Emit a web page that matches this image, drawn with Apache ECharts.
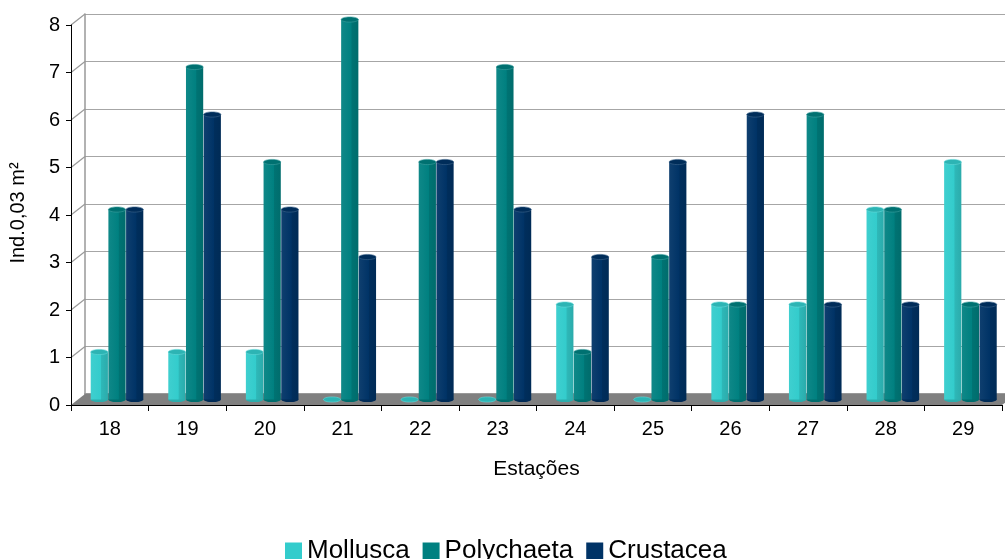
<!DOCTYPE html>
<html>
<head>
<meta charset="utf-8">
<script src="https://cdn.jsdelivr.net/npm/echarts@6/dist/echarts.min.js"></script>
<style>
html, body { margin: 0; padding: 0; background: #ffffff; }
#chart { width: 1005px; height: 559px; }
</style>
</head>
<body>
<div id="chart"></div>
<script>
// Sampling stations and counts per taxon (ind. per 0.03 m²)
const stations   = ['18', '19', '20', '21', '22', '23', '24', '25', '26', '27', '28', '29'];
const mollusca   = [1, 1, 1, 0, 0, 0, 2, 0, 2, 2, 4, 5];
const polychaeta = [4, 7, 5, 8, 5, 7, 1, 3, 2, 6, 4, 2];
const crustacea  = [4, 6, 4, 3, 5, 4, 3, 5, 6, 2, 2, 2];
const seriesNames  = ['Mollusca', 'Polychaeta', 'Crustacea'];
const seriesValues = [mollusca, polychaeta, crustacea];
const seriesColors = ['#33cccc', '#008080', '#003366'];
const yMin = 0, yMax = 8, yStep = 1;

// Oblique projection used for the box (floor, side wall, back wall)
const DEPTH_X = 14, DEPTH_Y = -11;
// Cylinders stand slightly behind the front plane
const BAR_SHIFT_Y = -5.5;
const FONT = '"Liberation Sans", Arial, sans-serif';

function shade(hex, k) {
  const n = parseInt(hex.slice(1), 16);
  let r = (n >> 16) & 255, g = (n >> 8) & 255, b = n & 255;
  const f = v => Math.max(0, Math.min(255, Math.round(k >= 1 ? v + (255 - v) * (k - 1) : v * k)));
  return 'rgb(' + f(r) + ',' + f(g) + ',' + f(b) + ')';
}

function cylinderRenderer(idx) {
  return function (params, api) {
    const cat = api.value(0), val = api.value(1);
    const top = api.coord([cat, val]);
    const base = api.coord([cat, 0]);
    const bw = api.size([1, 0])[0];
    const w = bw * 0.222;
    const left = top[0] - bw * 0.246 + idx * bw * 0.228;
    const yTop = top[1] + BAR_SHIFT_Y;
    const yBot = base[1] + BAR_SHIFT_Y;
    const ry = 2.6;
    const c = seriesColors[idx];
    const body = new echarts.graphic.LinearGradient(0, 0, 1, 0, [
      { offset: 0, color: shade(c, 1.06) },
      { offset: 0.58, color: c },
      { offset: 0.62, color: shade(c, 0.9) },
      { offset: 1, color: shade(c, 0.84) }
    ]);
    return {
      type: 'group',
      children: [
        { type: 'ellipse', shape: { cx: left + w / 2, cy: yBot, rx: w / 2, ry: ry },
          style: { fill: shade(c, 0.85) } },
        { type: 'rect', shape: { x: left, y: yTop, width: w, height: Math.max(0, yBot - yTop) },
          style: { fill: body } },
        { type: 'ellipse', shape: { cx: left + w / 2, cy: yTop, rx: w / 2, ry: ry },
          style: { fill: shade(c, 0.88), stroke: shade(c, 1.25), lineWidth: 0.6 } }
      ]
    };
  };
}

const chart = echarts.init(document.getElementById('chart'), null, { renderer: 'canvas' });

const barSeries = seriesNames.map((name, i) => ({
  name: name,
  type: 'custom',
  xAxisIndex: 0,
  yAxisIndex: 0,
  z: 4,
  clip: false,
  itemStyle: { color: seriesColors[i] },
  renderItem: cylinderRenderer(i),
  encode: { x: 0, y: 1 },
  data: seriesValues[i].map((v, j) => [j, v])
}));

const wallTicks = [];
for (let v = yMin + yStep; v <= yMax; v += yStep) wallTicks.push([0, v]);

chart.setOption({
  animation: false,
  backgroundColor: '#ffffff',
  textStyle: { fontFamily: FONT },
  grid: [
    { left: 71, right: 3, top: 25, bottom: 154 },
    { left: 71 + DEPTH_X, width: 940, top: 25 + DEPTH_Y, bottom: 154 - DEPTH_Y }
  ],
  xAxis: [
    {
      type: 'category', gridIndex: 0, data: stations, z: 6,
      axisLine: { lineStyle: { color: '#000000', width: 1 } },
      axisTick: { show: true, length: 6, lineStyle: { color: '#000000' } },
      axisLabel: { color: '#000000', fontSize: 20, margin: 14, fontFamily: FONT },
      name: 'Estações', nameLocation: 'middle', nameGap: 54,
      nameTextStyle: { color: '#000000', fontSize: 21, fontFamily: FONT },
      splitLine: { show: false }
    },
    {
      type: 'category', gridIndex: 1, data: stations, position: 'top',
      axisLine: { show: true, lineStyle: { color: '#999999', width: 2 } },
      axisTick: { show: false }, axisLabel: { show: false }, splitLine: { show: false }
    }
  ],
  yAxis: [
    {
      type: 'value', gridIndex: 0, min: yMin, max: yMax, interval: yStep, z: 6,
      axisLine: { show: true, lineStyle: { color: '#000000', width: 1 } },
      axisTick: { show: true, length: 5, lineStyle: { color: '#000000' } },
      axisLabel: { color: '#000000', fontSize: 20, margin: 11, fontFamily: FONT },
      splitLine: { show: false }
    },
    {
      type: 'value', gridIndex: 1, min: yMin, max: yMax, interval: yStep,
      axisLine: { show: true, lineStyle: { color: '#999999', width: 1.5 } },
      axisTick: { show: false }, axisLabel: { show: false },
      splitLine: { show: true, lineStyle: { color: '#a6a6a6', width: 1.2 } }
    }
  ],
  legend: {
    data: seriesNames,
    left: 280, top: 533,
    icon: 'rect', itemWidth: 17, itemHeight: 17, itemGap: 13,
    textStyle: { color: '#000000', fontSize: 26, fontFamily: FONT }
  },
  graphic: [
    {
      type: 'text', x: 18, y: 213, rotation: Math.PI / 2,
      style: { text: 'Ind.0,03 m²', fill: '#000000', font: '20px ' + FONT,
               align: 'center', verticalAlign: 'middle' }
    }
  ],
  series: [
    {
      // grey floor of the box
      type: 'custom', xAxisIndex: 0, yAxisIndex: 0, z: 1, silent: true, clip: false,
      data: [[0, 0]],
      renderItem: function (params, api) {
        const cs = params.coordSys;
        const y0 = api.coord([0, yMin])[1];
        return {
          type: 'polygon',
          shape: { points: [
            [cs.x, y0], [cs.x + cs.width, y0],
            [cs.x + cs.width + DEPTH_X, y0 + DEPTH_Y], [cs.x + DEPTH_X, y0 + DEPTH_Y]
          ] },
          style: { fill: '#808080' }
        };
      }
    },
    {
      // gridlines on the left side wall
      type: 'custom', xAxisIndex: 0, yAxisIndex: 0, z: 1, silent: true, clip: false,
      data: wallTicks,
      renderItem: function (params, api) {
        const cs = params.coordSys;
        const y = api.coord([0, api.value(1)])[1];
        return {
          type: 'line',
          shape: { x1: cs.x, y1: y, x2: cs.x + DEPTH_X, y2: y + DEPTH_Y },
          style: { stroke: '#999999', lineWidth: 1.2 }
        };
      }
    }
  ].concat(barSeries)
});
</script>
</body>
</html>
